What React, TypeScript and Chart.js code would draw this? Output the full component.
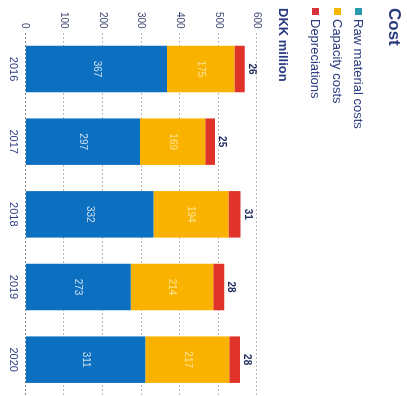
import React, { useEffect, useRef } from "react";
import { Chart, registerables } from "chart.js";

Chart.register(...registerables);

const years = ["2016", "2017", "2018", "2019", "2020"];
const rawMaterial = [367, 297, 332, 273, 311];
const capacity = [175, 169, 194, 214, 217];
const depreciation = [26, 25, 31, 28, 28];
const seriesNames = ["Raw material costs", "Capacity costs", "Depreciations"];
const yMin = 0;
const yMax = 600;
const yStep = 100;

const BLUE = "#0d6fbf";
const YELLOW = "#f9b200";
const RED = "#e0342a";
const NAVY = "#2a3a80";
const legendColors = ["#2a98ad", "#f7b400", "#d8323a"];

const W = 396;
const H = 407;

const labelPlugin = {
  id: "segLabels",
  afterDatasetsDraw(chart: any) {
    const ctx = chart.ctx;
    ctx.save();
    ctx.textAlign = "center";
    ctx.textBaseline = "middle";
    const all = [rawMaterial, capacity, depreciation];
    all.forEach((vals, di) => {
      const meta = chart.getDatasetMeta(di);
      meta.data.forEach((el: any, i: number) => {
        const v = vals[i];
        if (di === 0) {
          ctx.font = "10px 'Liberation Sans', Arial, sans-serif";
          ctx.fillStyle = "rgba(255,255,255,0.8)";
          ctx.fillText(String(v), el.x, (el.y + el.base) / 2);
        } else if (di === 1) {
          ctx.font = "10px 'Liberation Sans', Arial, sans-serif";
          ctx.fillStyle = "rgba(255,236,170,0.9)";
          ctx.fillText(String(v), el.x, (el.y + el.base) / 2);
        } else {
          ctx.font = "bold 10px 'Liberation Sans', Arial, sans-serif";
          ctx.fillStyle = "#1e2a5c";
          ctx.fillText(String(v), el.x, el.y - 7);
        }
      });
    });
    ctx.restore();
  },
};

export default function App() {
  const ref = useRef<HTMLCanvasElement | null>(null);

  useEffect(() => {
    if (!ref.current) return;
    const chart = new Chart(ref.current, {
      type: "bar",
      data: {
        labels: years,
        datasets: [
          { label: seriesNames[0], data: rawMaterial, backgroundColor: BLUE, borderWidth: 0 },
          { label: seriesNames[1], data: capacity, backgroundColor: YELLOW, borderWidth: 0 },
          { label: seriesNames[2], data: depreciation, backgroundColor: RED, borderWidth: 0 },
        ],
      },
      options: {
        responsive: false,
        animation: false,
        devicePixelRatio: 1,
        layout: { padding: { top: 150, left: 8, right: 0, bottom: 0 } },
        datasets: { bar: { categoryPercentage: 0.64, barPercentage: 1 } },
        plugins: {
          legend: { display: false },
          title: { display: false },
          tooltip: { enabled: false },
        },
        scales: {
          x: {
            stacked: true,
            grid: { display: false, drawTicks: false },
            border: { display: false },
            ticks: {
              color: NAVY,
              padding: 6,
              font: { size: 11, family: "'Liberation Sans', Arial, sans-serif" },
            },
          },
          y: {
            stacked: true,
            min: yMin,
            max: yMax,
            border: { display: false, dash: [2, 2] },
            grid: {
              drawTicks: false,
              color: (c: any) => (c.tick && c.tick.value === 0 ? "#8a8a8a" : "#b8b8b8"),
            },
            ticks: {
              stepSize: yStep,
              padding: 4,
              color: "#3c4670",
              font: { size: 10, family: "'Liberation Sans', Arial, sans-serif" },
            },
          },
        },
      },
      plugins: [labelPlugin],
    });
    return () => chart.destroy();
  }, []);

  const textFont = "'Liberation Sans', Arial, sans-serif";

  return (
    <div
      style={{
        position: "fixed",
        left: 0,
        top: 0,
        width: W,
        height: H,
        transformOrigin: "0 0",
        transform: `translate(${H}px, 0) rotate(90deg)`,
        background: "#fff",
        fontFamily: textFont,
      }}
    >
      <canvas ref={ref} width={W} height={H} style={{ position: "absolute", left: 0, top: 0 }} />
      <div
        style={{
          position: "absolute",
          left: 8,
          top: 3,
          fontSize: 17,
          fontWeight: "bold",
          color: NAVY,
          lineHeight: "20px",
        }}
      >
        Cost
      </div>
      {seriesNames.map((n, i) => (
        <div
          key={n}
          style={{
            position: "absolute",
            left: 8,
            top: 40 + i * 21.5,
            height: 16,
            display: "flex",
            alignItems: "center",
            fontSize: 13,
            color: NAVY,
            whiteSpace: "nowrap",
          }}
        >
          <span
            style={{
              display: "inline-block",
              width: 7,
              height: 7,
              background: legendColors[i],
              marginRight: 4,
            }}
          />
          {n}
        </div>
      ))}
      <div
        style={{
          position: "absolute",
          left: 8,
          top: 116,
          fontSize: 13,
          fontWeight: "bold",
          color: NAVY,
          lineHeight: "16px",
        }}
      >
        DKK million
      </div>
    </div>
  );
}
